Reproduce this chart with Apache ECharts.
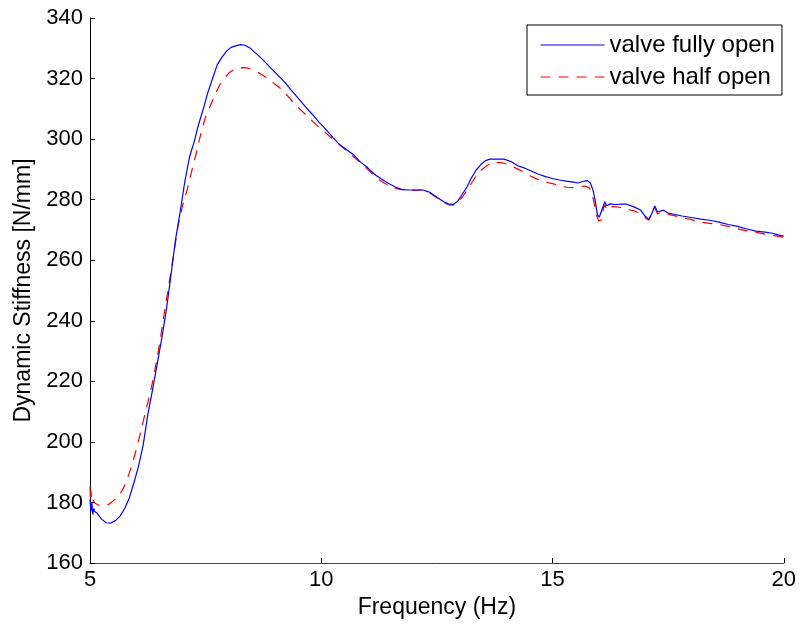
<!DOCTYPE html>
<html>
<head>
<meta charset="utf-8">
<script src="https://cdn.jsdelivr.net/npm/echarts@6/dist/echarts.min.js"></script>
<style>
  html, body { margin: 0; padding: 0; background: #fff; }
  #chart { width: 799px; height: 631px; }
</style>
</head>
<body>
<div id="chart"></div>
<script>
// Dynamic stiffness vs. frequency, two valve settings
const freqFull = [5.00,5.02,5.04,5.06,5.08,5.10,5.15,5.25,5.35,5.45,5.55,5.65,5.75,5.85,5.95,6.05,6.15,6.25,6.35,6.45,6.55,6.65,6.75,6.85,6.95,7.05,7.15,7.25,7.35,7.45,7.55,7.65,7.75,7.85,7.95,8.05,8.15,8.25,8.35,8.45,8.55,8.65,8.75,8.90,9.05,9.20,9.35,9.50,9.65,9.80,9.95,10.10,10.25,10.40,10.55,10.70,10.85,11.00,11.15,11.30,11.45,11.60,11.75,11.90,12.05,12.20,12.35,12.50,12.65,12.75,12.85,12.95,13.05,13.15,13.25,13.35,13.45,13.55,13.65,13.80,13.95,14.10,14.25,14.40,14.55,14.70,14.85,15.00,15.15,15.30,15.45,15.55,15.65,15.75,15.82,15.88,15.93,15.97,16.01,16.05,16.10,16.13,16.17,16.20,16.25,16.35,16.50,16.60,16.75,16.90,17.00,17.08,17.15,17.21,17.27,17.33,17.40,17.50,17.65,17.80,18.00,18.20,18.40,18.60,18.80,19.00,19.20,19.40,19.60,19.75,19.90,20.00];
const stiffFull = [181,177,180,176,178,177,176.5,174.5,173.3,173.2,174,175.5,178,181.5,186.5,192,199,209,217,225.5,234,243.5,255,267,276,286,294,299,305,310,315.5,320,324.5,327,329,330.3,330.8,331.2,331,330.2,328.8,327.5,326,323.6,321.3,319,316.2,313.5,310.8,308.3,305.6,303.2,300.6,298.1,296.5,294.8,292.4,290.6,288.4,286.8,285.4,284.2,283.3,283.2,283.2,283.2,282.4,280.8,279.3,278.6,278.4,279.5,281.8,284.2,287.3,289.8,291.6,292.9,293.4,293.4,293.4,292.6,291.2,290.4,289.4,288.4,287.6,287,286.5,286.1,285.8,285.5,286.0,286.3,285.5,283,279,275,274.2,274.4,278,279.3,278,277.9,278.6,278.4,278.5,278.5,277.7,276.6,274.6,273.5,275.5,277.9,276,276.2,276.5,275.6,275.1,274.6,274.1,273.6,273.2,272.6,271.8,271.2,270.3,269.6,269.3,268.9,268.3,268];

const freqHalf = [5.00,5.01,5.02,5.04,5.06,5.10,5.20,5.30,5.40,5.50,5.60,5.70,5.80,5.90,6.00,6.10,6.20,6.30,6.40,6.50,6.60,6.70,6.80,6.90,7.00,7.10,7.20,7.30,7.40,7.50,7.60,7.70,7.80,7.90,8.00,8.10,8.20,8.30,8.40,8.50,8.60,8.70,8.85,9.00,9.15,9.30,9.45,9.60,9.75,9.90,10.05,10.20,10.35,10.50,10.65,10.80,10.95,11.10,11.25,11.40,11.55,11.70,11.85,12.00,12.20,12.35,12.50,12.65,12.75,12.85,12.95,13.05,13.15,13.25,13.35,13.45,13.55,13.65,13.80,13.95,14.10,14.25,14.40,14.55,14.70,14.85,15.00,15.15,15.30,15.45,15.60,15.70,15.80,15.86,15.92,15.96,16.00,16.05,16.10,16.13,16.17,16.22,16.30,16.45,16.60,16.75,16.90,17.00,17.08,17.15,17.21,17.27,17.33,17.45,17.60,17.80,18.00,18.20,18.40,18.60,18.80,19.00,19.20,19.40,19.60,19.80,20.00];
const stiffHalf = [185,181,184,180,181,179.8,179,178.8,179.3,180.5,181.8,184,187.5,192,197.5,203.5,210,216,223.5,232,242,251.5,261,271,278,283.2,289.5,295.5,302,307.5,311,314.5,317.8,320,321.8,322.9,323.5,323.6,323.5,323,322.3,321.4,320,318.1,316.4,313.8,311.2,309,306.8,304.6,302.6,300.7,298.8,296.8,294.8,292.8,290.8,288.6,286.6,285.2,284,283.4,283.2,283.1,283.2,282.2,280.6,279,278.3,278.2,279,280.8,283,285.5,287.8,289.6,290.9,291.9,292.3,292.1,291.2,290.1,289,287.6,286.6,285.8,285.3,284.6,284.1,284,284.3,284.5,283.8,281.5,277.5,274.5,273,273.2,277,278.3,276.6,276.8,277.8,277.5,276.8,276.4,275.4,274,273.2,275.5,277.3,275.3,275.8,275.5,274.8,274.1,273.4,272.6,272.2,271.8,271.2,270.4,269.7,269.2,268.6,268.1,267.6];

const seriesNames = ['valve fully open', 'valve half open'];
const xTitle = 'Frequency (Hz)';
const yTitle = 'Dynamic Stiffness [N/mm]';

const pairs = (xs, ys) => xs.map((x, i) => [x, ys[i]]);
const FONT = '"Liberation Sans", Arial, Helvetica, sans-serif';

const chart = echarts.init(document.getElementById('chart'), null, { renderer: 'canvas' });
chart.setOption({
  animation: false,
  backgroundColor: '#ffffff',
  textStyle: { fontFamily: FONT, color: '#000' },
  grid: { left: 90, right: 15, top: 18, bottom: 68, containLabel: false },
  legend: {
    orient: 'vertical',
    left: 527,
    top: 25,
    padding: [7, 7, 5, 13],
    itemWidth: 64,
    itemHeight: 14,
    itemGap: 6,
    borderColor: '#000',
    borderWidth: 1,
    backgroundColor: '#fff',
    itemStyle: { opacity: 0 },
    lineStyle: { width: 1 },
    textStyle: { fontFamily: FONT, fontSize: 24, color: '#000', lineHeight: 26 },
    data: seriesNames
  },
  xAxis: {
    type: 'value',
    min: 5, max: 20, interval: 5,
    name: xTitle,
    nameLocation: 'middle',
    nameGap: 31,
    nameTextStyle: { fontFamily: FONT, fontSize: 23, color: '#000' },
    axisLine: { show: true, onZero: false, lineStyle: { color: '#444', width: 1 } },
    axisTick: { show: true, inside: true, length: 5, lineStyle: { color: '#000' } },
    axisLabel: { fontFamily: FONT, fontSize: 22, color: '#000', margin: 6 },
    splitLine: { show: false }
  },
  yAxis: {
    type: 'value',
    min: 160, max: 340, interval: 20,
    name: yTitle,
    nameLocation: 'middle',
    nameGap: 55,
    nameTextStyle: { fontFamily: FONT, fontSize: 23, color: '#000' },
    axisLine: { show: true, onZero: false, lineStyle: { color: '#000', width: 1 } },
    axisTick: { show: true, inside: true, length: 5, lineStyle: { color: '#000' } },
    axisLabel: { fontFamily: FONT, fontSize: 22, color: '#000', margin: 7 },
    splitLine: { show: false }
  },
  series: [
    {
      name: seriesNames[0],
      type: 'line',
      data: pairs(freqFull, stiffFull),
      symbol: 'none',
      lineStyle: { color: '#0000ff', width: 1.2 },
      itemStyle: { color: '#0000ff' },
      z: 3
    },
    {
      name: seriesNames[1],
      type: 'line',
      data: pairs(freqHalf, stiffHalf),
      symbol: 'none',
      lineStyle: { color: '#ff0000', width: 1.2, type: [10, 8] },
      itemStyle: { color: '#ff0000' },
      z: 2
    }
  ]
});
</script>
</body>
</html>
